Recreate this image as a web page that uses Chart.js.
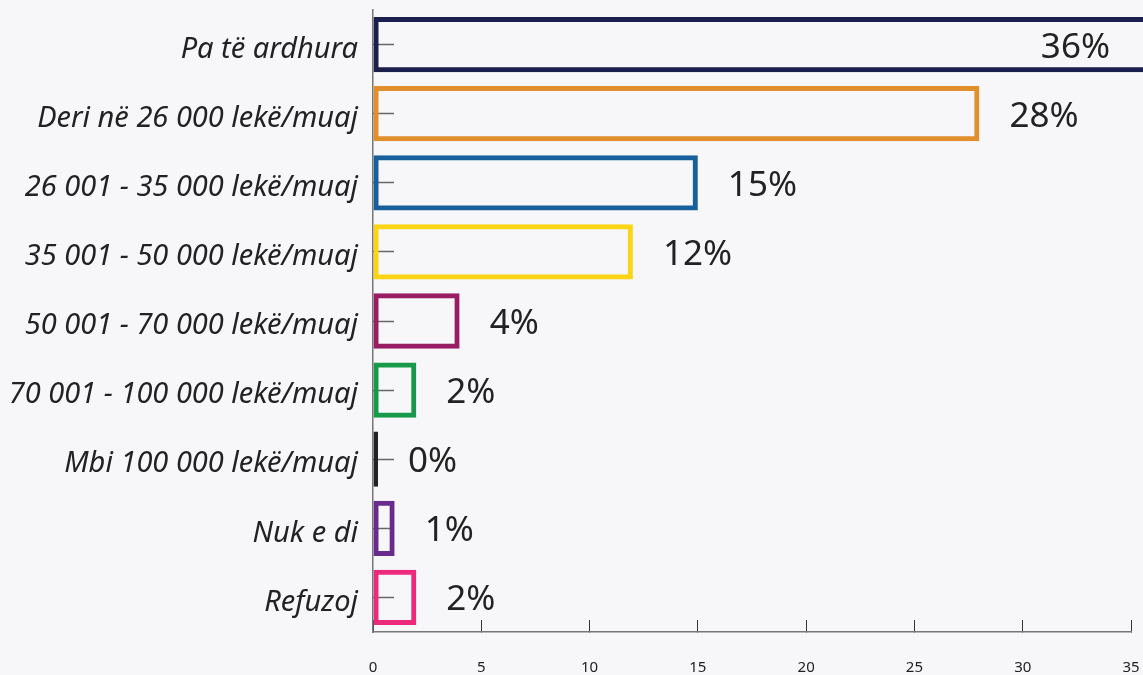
<!DOCTYPE html>
<html>
<head>
<meta charset="utf-8">
<script src="https://cdn.jsdelivr.net/npm/chart.js@4.4.1/dist/chart.umd.min.js"></script>
<style>
  html, body { margin: 0; padding: 0; background: #f7f7f9; }
  #wrap { width: 1143px; height: 675px; }
</style>
</head>
<body>
<div id="wrap"><canvas id="incomeChart" width="1143" height="675"></canvas></div>
<script>
// Income categories and shares (%)
const CATEGORIES = [
  "Pa të ardhura",
  "Deri në 26 000 lekë/muaj",
  "26 001 - 35 000 lekë/muaj",
  "35 001 - 50 000 lekë/muaj",
  "50 001 - 70 000 lekë/muaj",
  "70 001 - 100 000 lekë/muaj",
  "Mbi 100 000 lekë/muaj",
  "Nuk e di",
  "Refuzoj"
];
const SHARES = [36, 28, 15, 12, 4, 2, 0, 1, 2];
const BAR_COLORS = [
  "#1b1f4d", "#e08f2c", "#17609c", "#fbd414", "#991d62",
  "#169a49", "#222222", "#6a2b8f", "#ec2a7c"
];
const X_TICKS = [0, 5, 10, 15, 20, 25, 30, 35];

const FONT = "'Noto Sans', 'Open Sans', sans-serif";
const TEXT = "#222222";

// Draws the "NN%" labels right of each bar
const valueLabels = {
  id: "valueLabels",
  afterDatasetsDraw(chart) {
    const ctx = chart.ctx;
    const meta = chart.getDatasetMeta(0);
    ctx.save();
    ctx.font = "35px " + FONT;
    ctx.fillStyle = TEXT;
    ctx.textBaseline = "middle";
    ctx.textAlign = "left";
    meta.data.forEach((bar, i) => {
      const txt = SHARES[i] + "%";
      const w = ctx.measureText(txt).width;
      let x = bar.x + 30;
      if (x + w > chart.width - 30) {
        x = chart.width - 33 - w;
      }
      ctx.fillText(txt, x, bar.y + 3);
    });
    ctx.restore();
  }
};

// keep tick padding from eating into the chart area
function noScalePadding(scale) {
  scale.paddingTop = 0;
  scale.paddingBottom = 0;
  scale.paddingLeft = 0;
  scale.paddingRight = 0;
}

const ctx = document.getElementById("incomeChart").getContext("2d");

new Chart(ctx, {
  type: "bar",
  data: {
    labels: CATEGORIES,
    datasets: [
      {
        data: SHARES,
        borderColor: BAR_COLORS,
        backgroundColor: "rgba(0,0,0,0)",
        borderWidth: 5,
        borderSkipped: false,
        minBarLength: 5,
        barPercentage: 0.8,
        categoryPercentage: 1,
        clip: false
      }
    ]
  },
  options: {
    indexAxis: "y",
    animation: false,
    responsive: false,
    devicePixelRatio: 1,
    layout: {
      padding: { top: 10, right: 12, left: 0, bottom: 0 }
    },
    scales: {
      x: {
        min: 0,
        max: 35,
        afterBuildTicks(scale) {
          scale.ticks = X_TICKS.map(v => ({ value: v }));
        },
        afterFit(scale) {
          scale.height = 43;
          noScalePadding(scale);
        },
        grid: {
          drawOnChartArea: false,
          drawTicks: true,
          tickLength: -12,
          tickColor: "#333333",
          tickWidth: 1
        },
        border: {
          display: true,
          color: "#777777",
          width: 1.5
        },
        ticks: {
          padding: 39,
          color: TEXT,
          font: { family: FONT, size: 15 }
        }
      },
      y: {
        afterFit(scale) {
          scale.width = 373;
          noScalePadding(scale);
        },
        grid: {
          offset: false,
          drawOnChartArea: false,
          drawTicks: true,
          tickLength: -21,
          tickColor: "#666666",
          tickWidth: 1.5
        },
        border: {
          display: true,
          color: "#777777",
          width: 1.5
        },
        ticks: {
          padding: 36,
          labelOffset: 5,
          color: TEXT,
          font: { family: FONT, size: 29, style: "italic" }
        }
      }
    },
    plugins: {
      legend: { display: false },
      tooltip: { enabled: false }
    }
  },
  plugins: [valueLabels]
});
</script>
</body>
</html>
